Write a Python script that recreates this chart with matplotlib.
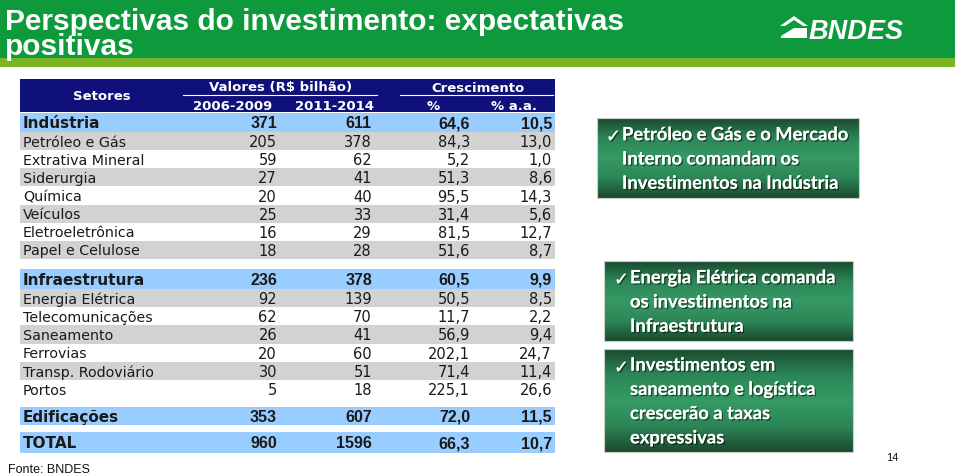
import numpy as np
import matplotlib.pyplot as plt
import matplotlib.patheffects as pe
from matplotlib.patches import Rectangle, Polygon
from matplotlib.colors import LinearSegmentedColormap

# Dados da tabela
ind_setores = ['Petróleo e Gás', 'Extrativa Mineral', 'Siderurgia', 'Química',
               'Veículos', 'Eletroeletrônica', 'Papel e Celulose']
ind_v1 = [205, 59, 27, 20, 25, 16, 18]
ind_v2 = [378, 62, 41, 40, 33, 29, 28]
ind_pct = [84.3, 5.2, 51.3, 95.5, 31.4, 81.5, 51.6]
ind_aa = [13.0, 1.0, 8.6, 14.3, 5.6, 12.7, 8.7]

inf_setores = ['Energia Elétrica', 'Telecomunicações', 'Saneamento', 'Ferrovias',
               'Transp. Rodoviário', 'Portos']
inf_v1 = [92, 62, 26, 20, 30, 5]
inf_v2 = [139, 70, 41, 60, 51, 18]
inf_pct = [50.5, 11.7, 56.9, 202.1, 71.4, 225.1]
inf_aa = [8.5, 2.2, 9.4, 24.7, 11.4, 26.6]

grupos = ['Indústria', 'Infraestrutura', 'Edificações', 'TOTAL']
grp_v1 = [371, 236, 353, 960]
grp_v2 = [611, 378, 607, 1596]
grp_pct = [64.6, 60.5, 72.0, 66.3]
grp_aa = [10.5, 9.9, 11.5, 10.7]

mensagens = ['Petróleo e Gás e o Mercado\nInterno comandam os\nInvestimentos na Indústria',
             'Energia Elétrica comanda\nos investimentos na\nInfraestrutura',
             'Investimentos em\nsaneamento e logística\ncrescerão a taxas\nexpressivas']

VERDE = '#0e9a3c'
VERDE_CLARO = '#7bb526'
AZUL_ESC = '#10107a'
AZUL_CLA = '#99ccff'
CINZA = '#d2d2d2'
TXT = '#1a1a1a'

COL_X = [277, 372, 470, 552]


def fmt(v, dec):
    return f"{v:.1f}".replace('.', ',') if dec else f"{v}"


fig = plt.figure(figsize=(9.59, 4.77), dpi=100)
ax = fig.add_axes([0, 0, 1, 1])
ax.set_xlim(0, 959)
ax.set_ylim(477, 0)
ax.axis('off')

# Cabeçalho verde
ax.add_patch(Rectangle((0, 0), 955, 59, color=VERDE, lw=0))
ax.add_patch(Rectangle((0, 59), 955, 9, color=VERDE_CLARO, lw=0))
ax.text(5, 55, 'Perspectivas do investimento: expectativas\npositivas', color='white',
        fontsize=21.5, fontweight='bold', family='Liberation Sans', va='baseline',
        linespacing=0.85)

# Logo BNDES
ax.add_patch(Polygon([(780, 27), (794, 17), (808, 27), (803, 27), (794, 21), (785, 27)],
                     closed=True, color='white', lw=0))
ax.add_patch(Polygon([(781, 29), (807, 29), (807, 39), (781, 39)], closed=True, color='white', lw=0))
ax.add_patch(Polygon([(781, 29), (794, 29), (781, 37)], closed=True, color=VERDE, lw=0))
ax.text(809, 39, 'BNDES', color='white', fontsize=19.5, fontweight='bold', style='italic',
        family='Liberation Sans', va='baseline')

# Cabeçalho da tabela
ax.add_patch(Rectangle((20, 80), 535, 33, color=AZUL_ESC, lw=0))
hkw = dict(color='white', fontsize=9.5, fontweight='bold', va='center')
ax.text(102, 97, 'Setores', ha='center', **hkw)
ax.text(281, 88, 'Valores (R$ bilhão)', ha='center', **hkw)
ax.text(478, 88, 'Crescimento', ha='center', **hkw)
ax.plot([183, 377], [96, 96], color='white', lw=0.8)
ax.plot([400, 553], [96, 96], color='white', lw=0.8)
ax.text(233, 106, '2006-2009', ha='center', **hkw)
ax.text(334, 106, '2011-2014', ha='center', **hkw)
ax.text(433, 106, '%', ha='center', **hkw)
ax.text(514, 106, '% a.a.', ha='center', **hkw)


def linha_grupo(i, top, h):
    ax.add_patch(Rectangle((20, top), 535, h, color=AZUL_CLA, lw=0))
    yc = top + h / 2 + 0.5
    ax.text(23, yc, grupos[i], fontsize=11, fontweight='bold', color=TXT, va='center')
    vals = [fmt(grp_v1[i], 0), fmt(grp_v2[i], 0), fmt(grp_pct[i], 1), fmt(grp_aa[i], 1)]
    for x, s in zip(COL_X, vals):
        ax.text(x, yc, s, ha='right', va='center', fontsize=11.5, fontweight='bold',
                family='Liberation Sans', color=TXT)


def linhas(setores, v1, v2, pct, aa, top, h):
    for k, nome in enumerate(setores):
        y0 = top + k * h
        if k % 2 == 0:
            ax.add_patch(Rectangle((20, y0), 535, h, color=CINZA, lw=0))
        yc = y0 + h / 2 + 0.5
        ax.text(23, yc, nome, fontsize=10.3, color=TXT, va='center')
        vals = [fmt(v1[k], 0), fmt(v2[k], 0), fmt(pct[k], 1), fmt(aa[k], 1)]
        for x, s in zip(COL_X, vals):
            ax.text(x, yc, s, ha='right', va='center', fontsize=10.5, color=TXT)


linha_grupo(0, 114, 19)
linhas(ind_setores, ind_v1, ind_v2, ind_pct, ind_aa, 133, 18.15)
linha_grupo(1, 270, 20)
linhas(inf_setores, inf_v1, inf_v2, inf_pct, inf_aa, 290, 18.2)
linha_grupo(2, 408, 17.5)
linha_grupo(3, 433, 21)

# Caixas de mensagem com gradiente verde
cmap = LinearSegmentedColormap.from_list('g', ['#1b4a2f', '#2c8656', '#369a65', '#2c8656', '#1b4a2f'])
grad = np.linspace(0, 1, 200).reshape(-1, 1)
caixas = [(597, 119, 262, 80), (604, 262, 249, 80), (604, 350, 249, 103)]
texto_x = [622, 630, 630]
sombra = [pe.withSimplePatchShadow(offset=(1, -1), shadow_rgbFace='black', alpha=0.5), pe.Normal()]
for (x0, y0, w, h), tx, msg in zip(caixas, texto_x, mensagens):
    ax.imshow(grad, extent=(x0, x0 + w, y0 + h, y0), cmap=cmap, aspect='auto', zorder=2)
    ax.add_patch(Rectangle((x0, y0), w, h, fill=False, ec='#c8d0c8', lw=0.8, zorder=3))
    ax.text(tx - 1, y0 + 19, '\u2713', color='white', fontsize=13, ha='right', va='center',
            zorder=4, path_effects=sombra)
    ax.text(tx, y0 + h / 2 + 1, msg, color='white', fontsize=13.2, fontweight='bold',
            family=['Lato', 'DejaVu Sans'], va='center', ha='left', linespacing=1.52, zorder=4,
            path_effects=sombra)
ax.set_xlim(0, 959)
ax.set_ylim(477, 0)

# Rodapé
ax.text(8, 470, 'Fonte: BNDES', fontsize=9, family='Liberation Sans', va='center', color='#111111')
ax.text(886, 458, '14', fontsize=8, family='Liberation Sans', va='center', color='#111111')

fig.savefig('out.png', dpi=100)
